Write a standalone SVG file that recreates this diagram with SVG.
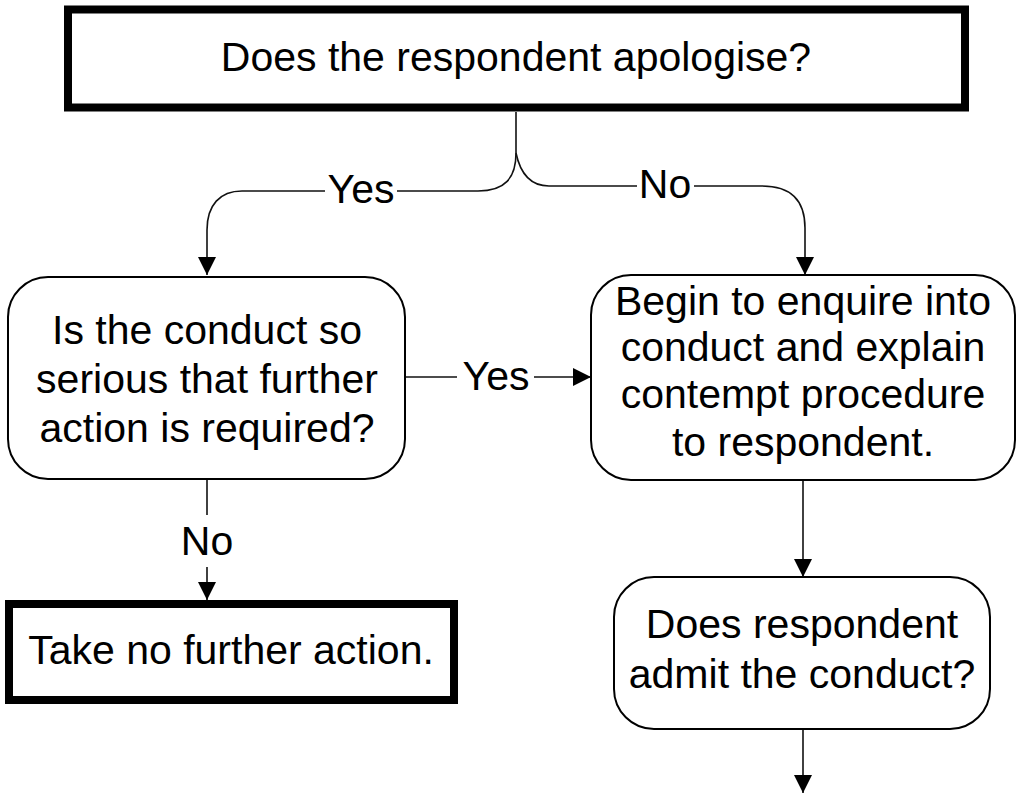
<svg xmlns="http://www.w3.org/2000/svg" width="1021" height="794" viewBox="0 0 1021 794">
<style>
text{font-family:"Liberation Sans",Arial,sans-serif;font-size:41px;fill:#000;text-anchor:middle}
.thick{fill:#fff;stroke:#000;stroke-width:8}
.round{fill:#fff;stroke:#000;stroke-width:2}
.conn{fill:none;stroke:#111;stroke-width:1.6}
</style>
<defs>
<marker id="arr" markerWidth="18" markerHeight="18" refX="18" refY="9" orient="auto" markerUnits="userSpaceOnUse">
<path d="M0,0 L18,9 L0,18 Z" fill="#000"/>
</marker>
</defs>
<rect width="1021" height="794" fill="#fff"/>
<g id="connectors">
<path class="conn" d="M516,112 L516,153"/>
<path class="conn" d="M516,153 C516,178 505,191 478,191 L397,191"/>
<path class="conn" d="M325,191 L242,191 C220,191 207,205 207,230 L207,275" marker-end="url(#arr)"/>
<path class="conn" d="M516,153 C520,172 530,186 549,186 L637,186"/>
<path class="conn" d="M694,186 L762,186 C790,186 805,200 805,228 L805,275" marker-end="url(#arr)"/>
<path class="conn" d="M405,377 L457,377"/>
<path class="conn" d="M534,377 L591,377" marker-end="url(#arr)"/>
<path class="conn" d="M207,479 L207,515"/>
<path class="conn" d="M207,567 L207,600" marker-end="url(#arr)"/>
<path class="conn" d="M803,480 L803,577" marker-end="url(#arr)"/>
<path class="conn" d="M803,729 L803,793" marker-end="url(#arr)"/>
<text x="361" y="203">Yes</text>
<text x="665" y="198">No</text>
<text x="496" y="390">Yes</text>
<text x="207" y="555">No</text>
</g>
<g id="n-apologise">
<rect class="thick" x="68" y="9.5" width="897" height="98"/>
<text x="516" y="71">Does the respondent apologise?</text>
</g>
<g id="n-serious">
<rect class="round" x="8" y="277" width="397" height="202" rx="40" ry="40"/>
<text x="207" y="344">Is the conduct so</text>
<text x="207" y="393">serious that further</text>
<text x="207" y="442">action is required?</text>
</g>
<g id="n-enquire">
<rect class="round" x="591" y="275" width="424" height="205" rx="40" ry="40"/>
<text x="803" y="315">Begin to enquire into</text>
<text x="803" y="361">conduct and explain</text>
<text x="803" y="408">contempt procedure</text>
<text x="803" y="456">to respondent.</text>
</g>
<g id="n-noaction">
<rect class="thick" x="9" y="604" width="445" height="96"/>
<text x="231" y="664">Take no further action.</text>
</g>
<g id="n-admit">
<rect class="round" x="614" y="577" width="376" height="152" rx="40" ry="40"/>
<text x="802" y="638">Does respondent</text>
<text x="802" y="688">admit the conduct?</text>
</g>
</svg>
